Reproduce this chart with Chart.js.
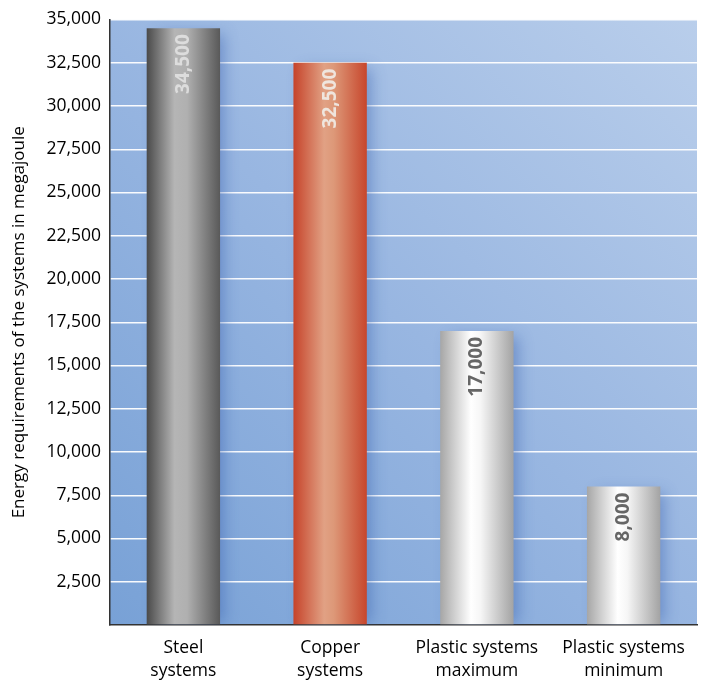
<!DOCTYPE html>
<html>
<head>
<meta charset="utf-8">
<script src="https://cdn.jsdelivr.net/npm/chart.js@4"></script>
<style>
html,body{margin:0;padding:0;background:#fff;}
#wrap{width:702px;height:680px;}
</style>
</head>
<body>
<div id="wrap"><canvas id="c" width="702" height="680"></canvas></div>
<script>
const categories = [["Steel","systems"],["Copper","systems"],["Plastic systems","maximum"],["Plastic systems","minimum"]];
const energyValues = [34500, 32500, 17000, 8000];
const valueLabels = ["34,500","32,500","17,000","8,000"];
const yTicks = [0,2500,5000,7500,10000,12500,15000,17500,20000,22500,25000,27500,30000,32500,35000];
const yTitle = "Energy requirements of the systems in megajoule";

const FONT = "'Open Sans', 'Noto Sans', sans-serif";

const barStops = [
  [[0,'#4a4a4a'],[0.38,'#b5b5b5'],[0.55,'#b0b0b0'],[1,'#595959']],
  [[0,'#c6432a'],[0.42,'#e1a184'],[0.55,'#dd9878'],[1,'#c7462c']],
  [[0,'#a6a6a6'],[0.42,'#ffffff'],[0.55,'#f6f6f6'],[1,'#a3a3a3']],
  [[0,'#a6a6a6'],[0.42,'#ffffff'],[0.55,'#f6f6f6'],[1,'#a3a3a3']]
];
const labelColors = ['rgba(225,225,225,0.9)','rgba(240,235,230,0.92)','#666666','#666666'];

function barFill(ctx){
  const chart = ctx.chart;
  const xs = chart.scales.x;
  const i = ctx.dataIndex;
  if(!xs || !chart.chartArea) return '#999';
  const cx = xs.getPixelForValue(i);
  const w = (xs.right - xs.left)/categories.length*0.5;
  const g = chart.ctx.createLinearGradient(cx - w/2, 0, cx + w/2, 0);
  barStops[i].forEach(s => g.addColorStop(s[0], s[1]));
  return g;
}

const bgPlugin = {
  id:'bgPlugin',
  beforeDraw(chart){
    const a = chart.chartArea, c = chart.ctx;
    c.save();
    const g = c.createLinearGradient(a.left, a.bottom, a.right, a.top);
    g.addColorStop(0,'#78a1d6');
    g.addColorStop(0.5,'#98b6e1');
    g.addColorStop(1,'#b9ceeb');
    c.fillStyle = g;
    c.fillRect(a.left, a.top, a.right-a.left, a.bottom-a.top);
    c.restore();
  },
  beforeDatasetsDraw(chart){
    const c = chart.ctx, a = chart.chartArea;
    const meta = chart.getDatasetMeta(0);
    c.save();
    c.beginPath();
    c.rect(a.left, a.top, a.right-a.left, a.bottom-a.top);
    c.clip();
    meta.data.forEach(el=>{
      c.shadowColor = 'rgba(50,90,170,0.45)';
      c.shadowBlur = 14;
      c.shadowOffsetX = 7;
      c.shadowOffsetY = 0;
      c.fillStyle = '#8fb0dd';
      c.fillRect(el.x - el.width/2 + 3, el.y + 6, el.width - 6, a.bottom - el.y - 8);
    });
    c.restore();
  },
  afterDatasetsDraw(chart){
    const c = chart.ctx;
    const meta = chart.getDatasetMeta(0);
    c.save();
    c.font = "bold 19px " + FONT;
    c.textBaseline = 'middle';
    c.textAlign = 'right';
    meta.data.forEach((el,i)=>{
      c.save();
      c.translate(el.x, el.y + 6);
      c.rotate(-Math.PI/2);
      c.fillStyle = labelColors[i];
      c.fillText(valueLabels[i], 0, 0);
      c.restore();
    });
    c.restore();
  }
};

new Chart(document.getElementById('c'), {
  type:'bar',
  data:{
    labels: categories,
    datasets:[{
      data: energyValues,
      backgroundColor: barFill,
      borderWidth:0,
      categoryPercentage:0.5,
      barPercentage:1.0
    }]
  },
  options:{
    responsive:false,
    animation:false,
    devicePixelRatio:1,
    layout:{padding:{top:17,right:5,left:0,bottom:0}},
    plugins:{legend:{display:false},tooltip:{enabled:false}},
    scales:{
      x:{
        grid:{display:false},
        border:{display:true,color:'#333',width:1.5},
        ticks:{font:{family:FONT,size:17.5,lineHeight:1.3},color:'#000',padding:4,maxRotation:0,autoSkip:false},
        afterFit(s){ s.height = 55; }
      },
      y:{
        min:0,max:35000,
        afterBuildTicks(s){ s.ticks = yTicks.map(v=>({value:v})); },
        grid:{color:'rgba(255,255,255,0.95)',lineWidth:1.5,drawTicks:false},
        border:{display:true,color:'#333',width:1.5},
        ticks:{
          font:{family:FONT,size:17.5},color:'#000',padding:9,
          callback(v){ return v===0 ? '' : v.toLocaleString('en-US'); }
        },
        title:{display:true,text:yTitle,font:{family:FONT,size:17},color:'#000',padding:{top:9,bottom:2}},
        afterFit(s){ s.width = 110; }
      }
    }
  },
  plugins:[bgPlugin]
});
</script>
</body>
</html>
